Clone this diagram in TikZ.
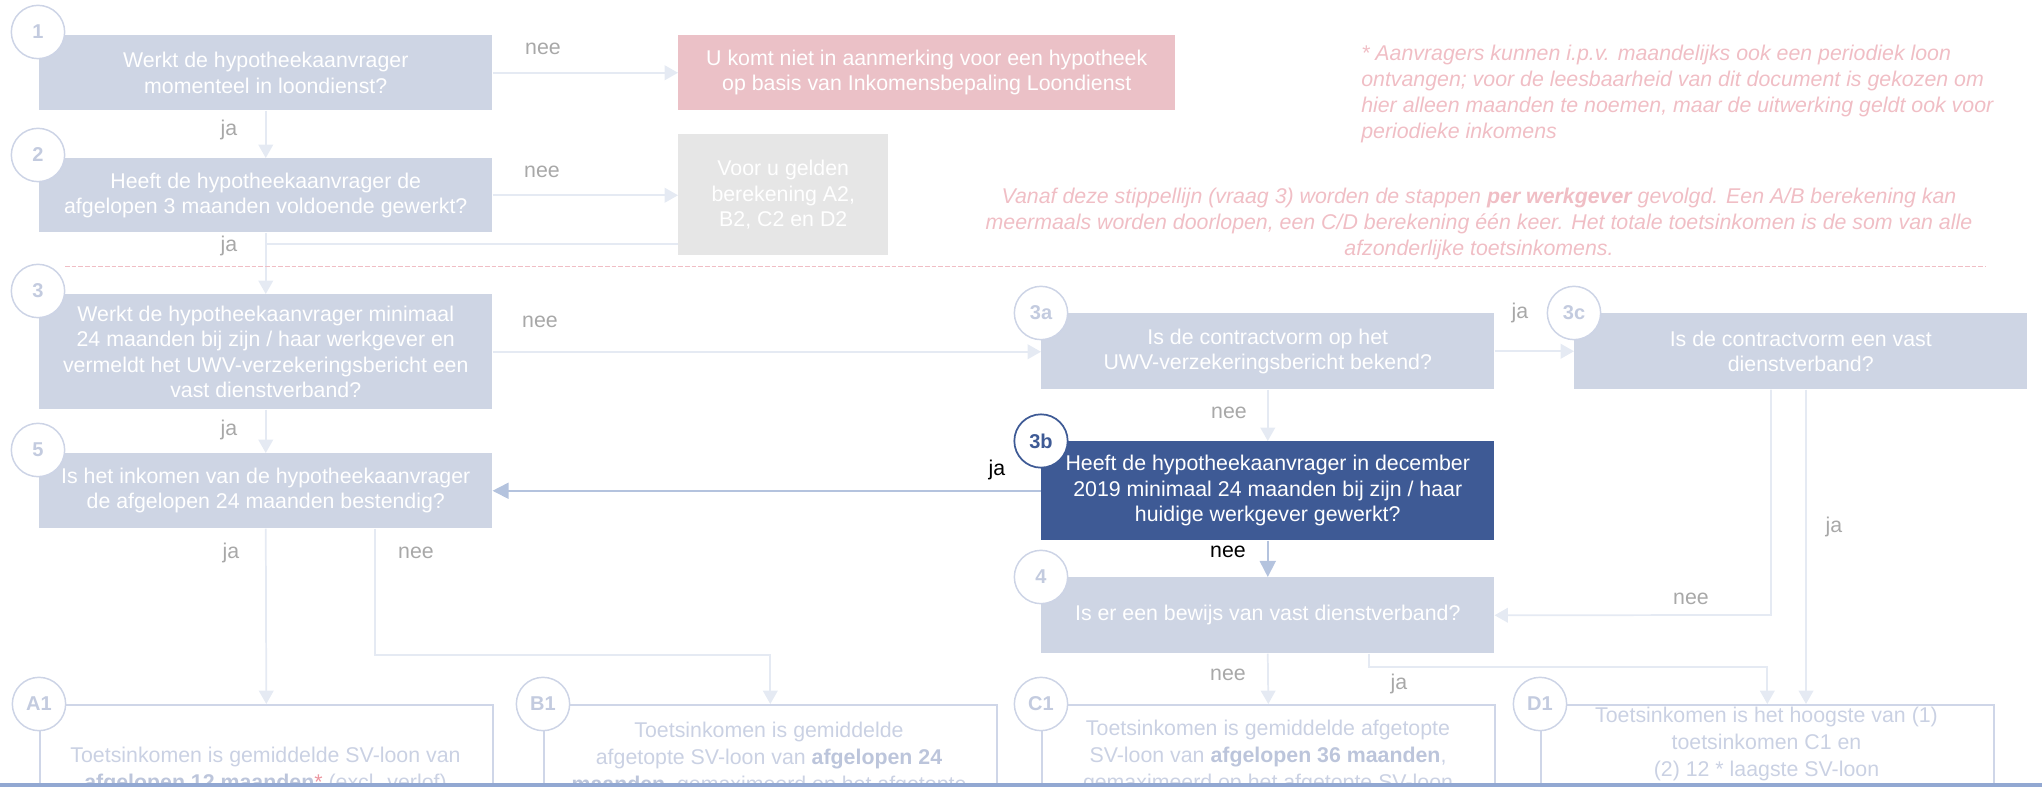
\documentclass[tikz,border=0pt]{standalone}
\usepackage{fontspec}
\setmainfont{Liberation Sans}
\usepackage{tikz}
\usetikzlibrary{arrows.meta}

\definecolor{clVraag}{RGB}{206,213,228}
\definecolor{clDonker}{RGB}{62,90,149}
\definecolor{clNumLijn}{RGB}{205,212,230}
\definecolor{clNumTekst}{RGB}{195,203,223}
\definecolor{clLijn}{RGB}{229,234,243}
\definecolor{clBlauwPijl}{RGB}{180,195,222}
\definecolor{clAntw}{RGB}{168,168,168}
\definecolor{clRoze}{RGB}{235,193,199}
\definecolor{clGrijs}{RGB}{230,230,230}
\definecolor{clNoot}{RGB}{240,190,197}
\definecolor{clUitLijn}{RGB}{207,214,232}
\definecolor{clUitTekst}{RGB}{202,209,227}
\definecolor{clUitVet}{RGB}{188,197,219}
\definecolor{clSter}{RGB}{236,150,160}
\definecolor{clBalk}{RGB}{146,168,210}

\newcommand{\vet}[1]{{\bfseries\color{clUitVet}#1}}

\begin{document}
\begin{tikzpicture}[x=0.75pt,y=0.75pt,yscale=-1,xscale=1,
  vraag/.style={fill=clVraag, text=white, align=center, inner sep=0pt, anchor=north west,
    minimum width=339.75pt, font=\fontsize{16}{19}\selectfont},
  uitkomst/.style={draw=clUitLijn, line width=1.2pt, anchor=north west, inner sep=0pt,
    minimum width=339.75pt, minimum height=150pt},
  uittekst/.style={text=clUitTekst, align=center, anchor=north, inner sep=0pt,
    font=\fontsize{16}{20}\selectfont},
  nummer/.style={circle, draw=clNumLijn, line width=1.1pt, fill=white, text=clNumTekst,
    minimum size=40pt, inner sep=0pt, font=\bfseries\fontsize{15}{18}\selectfont},
  antw/.style={text=clAntw, inner sep=0pt, font=\fontsize{16}{19}\selectfont},
  noot/.style={text=clNoot, inner sep=0pt, font=\itshape\fontsize{16}{19.5}\selectfont},
  lijn/.style={draw=clLijn, line width=1.3pt},
  pijl/.style={lijn, -{Triangle[length=10pt,width=11pt]}},
  blauwpijl/.style={draw=clBlauwPijl, line width=1.3pt, -{Triangle[length=12pt,width=12pt]}}
]
\useasboundingbox (0,0) rectangle (2042,787);
\clip (0,0) rectangle (2042,787);

%Shape: Rectangle
\node[vraag, minimum height=56.25pt] (b1) at (39,35) {Werkt de hypotheekaanvrager\\momenteel in loondienst?};
%Shape: Rectangle
\node[vraag, fill=clRoze, minimum width=372.75pt, minimum height=56.25pt] (afw) at (678,35) {U komt niet in aanmerking voor een hypotheek\\op basis van Inkomensbepaling Loondienst};
%Shape: Rectangle
\node[vraag, minimum height=55.5pt] (b2) at (39,158) {Heeft de hypotheekaanvrager de\\afgelopen 3 maanden voldoende gewerkt?};
%Shape: Rectangle
\node[vraag, fill=clGrijs, minimum width=157.5pt, minimum height=90.75pt] (ber2) at (678,134) {Voor u gelden\\berekening A2,\\B2, C2 en D2};
%Shape: Rectangle
\node[vraag, minimum height=86.25pt] (b3) at (39,294) {Werkt de hypotheekaanvrager minimaal\\24 maanden bij zijn / haar werkgever en\\vermeldt het UWV-verzekeringsbericht een\\vast dienstverband?};
%Shape: Rectangle
\node[vraag, minimum height=57pt] (b3a) at (1041,313) {Is de contractvorm op het\\UWV-verzekeringsbericht bekend?};
%Shape: Rectangle
\node[vraag, minimum height=57pt] (b3c) at (1574,313) {Is de contractvorm een vast\\dienstverband?};
%Shape: Rectangle
\node[vraag, fill=clDonker, minimum height=74.25pt] (b3b) at (1041,441) {Heeft de hypotheekaanvrager in december\\2019 minimaal 24 maanden bij zijn / haar\\huidige werkgever gewerkt?};
%Shape: Rectangle
\node[vraag, minimum height=56.25pt] (b5) at (39,453) {Is het inkomen van de hypotheekaanvrager\\de afgelopen 24 maanden bestendig?};
%Shape: Rectangle
\node[vraag, minimum height=57pt] (b4) at (1041,577) {Is er een bewijs van vast dienstverband?};

%Shape: Rectangle
\node[uitkomst] (A1) at (39,704) {};
\node[uitkomst] (B1) at (543,704) {};
\node[uitkomst] (C1) at (1041,704) {};
\node[uitkomst] (D1) at (1540,704) {};

%Shape: Circle
\node[nummer] (n1) at ([shift={(-1,-3)}]b1.north west) {1};
\node[nummer] (n2) at ([shift={(-1,-3)}]b2.north west) {2};
\node[nummer] (n3) at ([shift={(-1,-3)}]b3.north west) {3};
\node[nummer] (n3a) at (b3a.north west) {3a};
\node[nummer] (n3c) at (b3c.north west) {3c};
\node[nummer, draw=clDonker, text=clDonker, line width=1.3pt] (n3b) at (b3b.north west) {3b};
\node[nummer] (n5) at ([shift={(-1,-3)}]b5.north west) {5};
\node[nummer] (n4) at (b4.north west) {4};
\node[nummer] (nA1) at (A1.north west) {A1};
\node[nummer] (nB1) at (B1.north west) {B1};
\node[nummer] (nC1) at (C1.north west) {C1};
\node[nummer] (nD1) at (D1.north west) {D1};

\coordinate (jg) at (265.5,244);
\coordinate (j3c) at (1771,615);
\coordinate (k3c) at (1806,704);
\coordinate (j5) at (375,655);
\coordinate (j4) at (1369,667);

%Straight Lines
\draw[pijl] (b1.east) -- (afw.west);
\draw[pijl] (b1.south) -- (b2.north);
\draw[pijl] (b2.east) -- (ber2.west |- b2.east);
\draw[pijl] (b2.south) -- (b3.north);
\draw[lijn] (ber2.west |- jg) -- (jg);
\draw[pijl] (b3.east) -- (b3a.west |- b3.east);
\draw[pijl] (b3a.east) -- (b3c.west);
\draw[pijl] (b3a.south) -- (b3b.north);
\draw[pijl] (b3.south) -- (b5.north);
\draw[blauwpijl] (b3b.west) -- (b5.east);
\draw[blauwpijl] (b3b.south) -- (b4.north);
\draw[pijl] (b3c.south -| j3c) -- (j3c) -- (b4.east);
\draw[pijl] (b3c.south -| k3c) -- (D1.north -| k3c);
\draw[pijl] (b5.south) -- (A1.north);
\draw[pijl] (b5.south -| j5) -- (j5) -| (B1.north);
\draw[pijl] (b4.south) -- (C1.north);
\draw[pijl] (b4.south -| j4) -- (j4) -| (D1.north);

% Text Node
\node[antw] (t1) at (543,49) {nee};
\node[antw] (t2) at (229,130) {ja};
\node[antw] (t3) at (542,172) {nee};
\node[antw] (t4) at (229,246) {ja};
\node[antw] (t5) at (540,322) {nee};
\node[antw] (t6) at (229,430) {ja};
\node[antw] (t7) at (1520,313) {ja};
\node[antw] (t8) at (1229,413) {nee};
\node[antw, text=black] (t9) at (997,470) {ja};
\node[antw, text=black] (t10) at (1228,552) {nee};
\node[antw] (t11) at (1691,599) {nee};
\node[antw] (t12) at (1834,527) {ja};
\node[antw] (t13) at (231,553) {ja};
\node[antw] (t14) at (416,553) {nee};
\node[antw] (t15) at (1228,675) {nee};
\node[antw] (t16) at (1399,684) {ja};

% Text Node
\node[noot, anchor=north west, align=left] (noot1) at (1361,45) {* Aanvragers kunnen i.p.v. maandelijks ook een periodiek loon\\ontvangen; voor de leesbaarheid van dit document is gekozen om\\hier alleen maanden te noemen, maar de uitwerking geldt ook voor\\periodieke inkomens};
% Text Node
\node[noot, align=center] (noot2) at (1479,224) {Vanaf deze stippellijn (vraag 3) worden de stappen \textbf{per werkgever} gevolgd. Een A/B berekening kan\\meermaals worden doorlopen, een C/D berekening één keer. Het totale toetsinkomen is de som van alle\\afzonderlijke toetsinkomens.};
%Straight Lines
\draw[draw=clNoot, line width=0.7pt, dash pattern=on 3.5pt off 1.5pt] (65,266) -- (1986,266);

% Text Node
\node[uittekst] (A1t) at (265.5,747) {Toetsinkomen is gemiddelde SV-loon van\\\vet{afgelopen 12 maanden}{\color{clSter}*} (excl. verlof)};
\node[uittekst] (B1t) at (769,722) {Toetsinkomen is gemiddelde\\afgetopte SV-loon van \vet{afgelopen 24}\\\vet{maanden}, gemaximeerd op het afgetopte};
\node[uittekst] (C1t) at (1268,720) {Toetsinkomen is gemiddelde afgetopte\\SV-loon van \vet{afgelopen 36 maanden},\\gemaximeerd op het afgetopte SV-loon};
\node[uittekst] (D1t) at (1766.5,707) {Toetsinkomen is het hoogste van (1)\\toetsinkomen C1 en\\(2) 12 * laagste SV-loon};

%Shape: Rectangle
\fill[clBalk] (0,783) rectangle (2042,788);

\end{tikzpicture}
\end{document}
